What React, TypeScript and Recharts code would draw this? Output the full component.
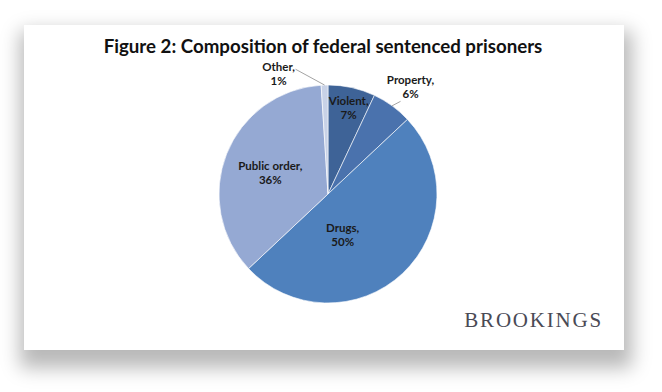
import { PieChart, Pie, Cell } from 'recharts'

// Offense categories and their share of federal sentenced prisoners (%)
const categories = ['Violent', 'Property', 'Drugs', 'Public order', 'Other']
const shares = [7, 6, 50, 36, 1]

const colors = ['#3E6397', '#4A72AD', '#4F81BD', '#95A9D3', '#C8D2E7']

// label placement: angle clockwise from 12 o'clock, radius as fraction of pie radius
const labelSpots = [
  { angle: 13.7, r: 0.8, leader: false },
  { angle: 38, r: 1.23, leader: true },
  { angle: 160.8, r: 0.41, leader: false },
  { angle: 289, r: 0.56, leader: false },
  { angle: 337.4, r: 1.18, leader: true },
]

const data = categories.map((name, i) => ({ name, value: shares[i] }))

const RADIAN = Math.PI / 180

const renderLabel = (props: any) => {
  const { cx, cy, midAngle, outerRadius, index } = props
  const spot = labelSpots[index]
  const x = cx + outerRadius * spot.r * Math.sin(spot.angle * RADIAN)
  const y = cy - outerRadius * spot.r * Math.cos(spot.angle * RADIAN)
  const ex = cx + outerRadius * Math.cos(-midAngle * RADIAN)
  const ey = cy + outerRadius * Math.sin(-midAngle * RADIAN)
  let lx = x
  let ly = y
  if (spot.leader) {
    lx = index === 4 ? x + 17 : x - 10
    ly = index === 4 ? y - 6 : y + 13
  }
  return (
    <g>
      {spot.leader && (
        <line x1={lx} y1={ly} x2={ex} y2={ey} stroke="#8c8c8c" strokeWidth={0.8} />
      )}
      <text
        x={x}
        y={y}
        textAnchor="middle"
        fill="#1a1a1a"
        fontFamily="Lato, 'Open Sans', sans-serif"
        fontWeight={700}
        fontSize={11.5}
      >
        <tspan x={x} dy={-4}>{data[index].name},</tspan>
        <tspan x={x} dy={14}>{data[index].value}%</tspan>
      </text>
    </g>
  )
}

export default function App() {
  return (
    <div
      style={{
        position: 'fixed',
        left: 0,
        top: 0,
        width: 662,
        height: 392,
        background: '#ffffff',
        overflow: 'hidden',
      }}
    >
      <div
        style={{
          position: 'absolute',
          left: 24,
          top: 25,
          width: 600,
          height: 325,
          background: '#ffffff',
          boxShadow: '2px 12px 18px 6px rgba(0,0,0,0.28)',
        }}
      >
        <div
          style={{
            position: 'absolute',
            left: 0,
            top: 10,
            width: 598,
            textAlign: 'center',
            fontFamily: "Lato, 'Open Sans', sans-serif",
            fontWeight: 700,
            fontSize: 18.7,
            color: '#111111',
          }}
        >
          Figure 2: Composition of federal sentenced prisoners
        </div>
        <PieChart width={600} height={325} style={{ position: 'absolute', left: 0, top: 0 }}>
          <Pie
            data={data}
            dataKey="value"
            nameKey="name"
            cx={299}
            cy={164}
            outerRadius={109}
            startAngle={90}
            endAngle={-270}
            stroke="#ffffff"
            strokeWidth={0.6}
            label={renderLabel}
            labelLine={false}
            isAnimationActive={false}
          >
            {data.map((d, i) => (
              <Cell key={d.name} fill={colors[i]} />
            ))}
          </Pie>
        </PieChart>
        <div
          style={{
            position: 'absolute',
            right: 21,
            top: 283,
            fontFamily: "'Liberation Serif', 'DejaVu Serif', serif",
            fontSize: 21,
            letterSpacing: 1.8,
            color: '#4a4a55',
          }}
        >
          BROOKINGS
        </div>
      </div>
    </div>
  )
}
